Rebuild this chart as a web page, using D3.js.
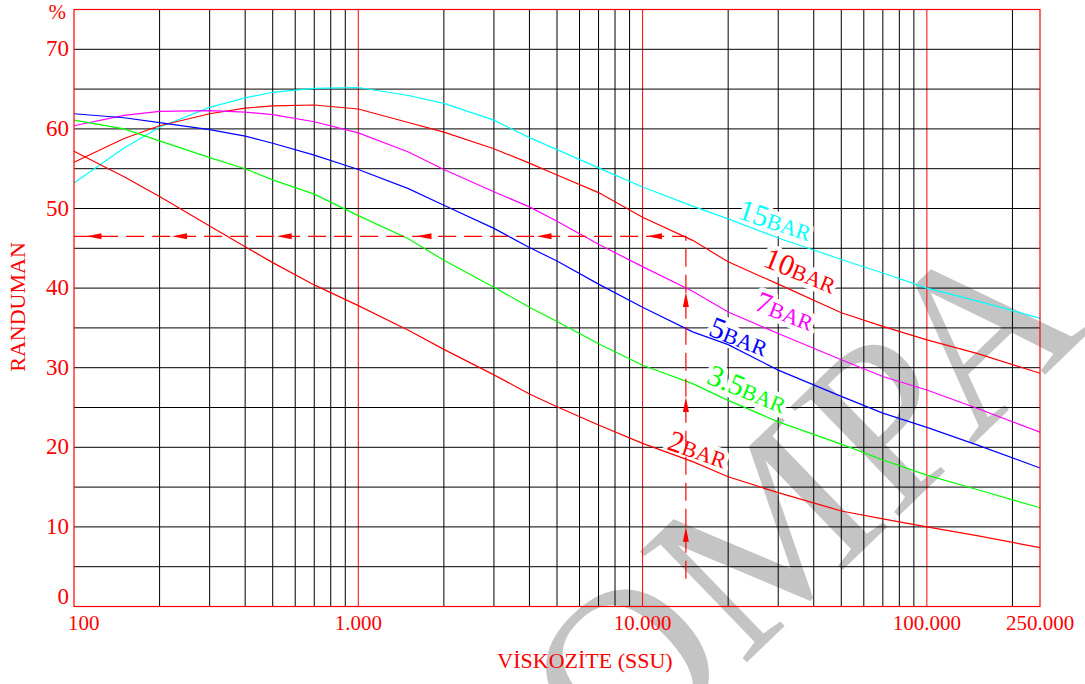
<!DOCTYPE html>
<html>
<head>
<meta charset="utf-8">
<script src="https://cdn.jsdelivr.net/npm/d3@7"></script>
<style>
  body { margin: 0; background: #fff; }
  svg { display: block; }
  text { font-family: "Liberation Serif", "Times New Roman", serif; }
</style>
</head>
<body>
<div id="chart"></div>
<script>
// viscosity (SSU) sample points
var viscosity = [100, 150, 200, 300, 400, 500, 700, 1000, 1500, 2000, 3000, 4000, 5000, 7000,
  10000, 15000, 20000, 30000, 50000, 70000, 100000, 150000, 250000];

// efficiency (%) per pressure
var bar15 = [53.2, 57.6, 60.2, 62.7, 63.9, 64.6, 65.1, 65.2, 64.2, 63.2, 61.1, 58.9, 57.4, 55.1,
  52.7, 50.3, 48.7, 46.3, 43.6, 41.9, 40.0, 38.4, 36.2];
var bar10 = [55.8, 58.8, 60.4, 61.9, 62.6, 62.9, 63.0, 62.5, 60.8, 59.6, 57.5, 55.7, 54.2, 52.0,
  48.9, 46.0, 43.3, 40.5, 36.9, 35.2, 33.5, 31.8, 29.3];
var bar7 = [60.4, 61.7, 62.2, 62.3, 62.1, 61.8, 60.9, 59.5, 57.1, 54.9, 52.1, 50.2, 48.4, 45.5,
  42.7, 39.6, 37.0, 34.3, 31.0, 28.9, 27.2, 24.9, 21.9];
var bar5 = [61.9, 61.4, 60.8, 59.9, 59.1, 58.2, 56.7, 54.9, 52.5, 50.4, 47.5, 45.1, 43.4, 40.5,
  37.6, 34.5, 32.9, 29.7, 26.4, 24.3, 22.5, 20.3, 17.4];
var bar3_5 = [61.1, 60.0, 58.5, 56.4, 55.0, 53.6, 51.8, 49.1, 46.2, 43.5, 40.1, 37.6, 35.8, 33.0,
  30.3, 28.0, 25.9, 23.2, 20.4, 18.4, 16.5, 14.7, 12.4];
var bar2 = [57.2, 54.0, 51.5, 47.8, 45.2, 43.2, 40.4, 37.8, 34.7, 32.3, 29.1, 26.7, 25.1, 22.8,
  20.5, 18.2, 16.3, 14.3, 12.0, 11.0, 10.0, 8.9, 7.4];

var seriesNames = ["15", "10", "7", "5", "3.5", "2"];
var seriesColors = ["#00ffff", "#ff0000", "#ff00ff", "#0000ff", "#00ff00", "#ff0000"];
var seriesValues = [bar15, bar10, bar7, bar5, bar3_5, bar2];

// label anchor (viscosity, %) and rotation for each curve
var labelVisc = [21400, 26300, 24500, 16900, 16600, 12100];
var labelVal = [48.8, 42.8, 37.3, 34.1, 28.1, 19.8];
var labelAngle = [18, 22, 21, 21, 22, 19];

// x tick labels
var xTicks = [100, 1000, 10000, 100000, 250000];
var xTickLabels = ["100", "1.000", "10.000", "100.000", "250.000"];
var yTicks = [0, 10, 20, 30, 40, 50, 60, 70];

// dashed reading guide
var guideVisc = 14200;
var guideVal = 46.5;
var guideBottom = 3.5;
var hArrowVisc = [118, 236, 551, 1710, 4520, 11050];
var vArrowVal = [38.5, 25.3, 9.0];

var width = 1085, height = 684;

var svg = d3.select("#chart").append("svg")
  .attr("width", width)
  .attr("height", height);

var x = d3.scaleLog().domain([100, 250000]).range([74, 1040]);
var y = d3.scaleLinear().domain([0, 75]).range([606.5, 9.5]);

// watermark
svg.append("text")
  .attr("transform", "translate(620,785) rotate(-44)")
  .attr("font-size", 235)
  .attr("fill", "#c4c4c4")
  .text("OMPA");

// grid
var vLines = [];
[100, 1000, 10000, 100000].forEach(function(d) {
  for (var m = 1; m <= 9; m++) {
    var v = d * m;
    if (v > 100 && v < 250000) vLines.push({v: v, major: m === 1});
  }
});

svg.append("g")
  .selectAll("line")
  .data(vLines)
  .enter().append("line")
    .attr("x1", function(d) { return x(d.v); })
    .attr("x2", function(d) { return x(d.v); })
    .attr("y1", y(0))
    .attr("y2", y(75))
    .attr("stroke", function(d) { return d.major ? "#ff0000" : "#000"; })
    .attr("stroke-width", 1);

svg.append("g")
  .selectAll("line")
  .data(d3.range(5, 75, 5))
  .enter().append("line")
    .attr("x1", x(100))
    .attr("x2", x(250000))
    .attr("y1", function(d) { return y(d); })
    .attr("y2", function(d) { return y(d); })
    .attr("stroke", "#000")
    .attr("stroke-width", 1);

// label halos (cut the grid, not the curves)
function labelText(sel) {
  sel.attr("transform", function(d, i) {
      return "translate(" + x(labelVisc[i]) + "," + y(labelVal[i]) + ") rotate(" + labelAngle[i] + ")";
    })
    .attr("fill", function(d, i) { return seriesColors[i]; });
  sel.append("tspan").attr("font-size", 30).text(function(d) { return d; });
  sel.append("tspan").attr("font-size", 22).text("BAR");
}

svg.append("g")
  .selectAll("text")
  .data(seriesNames)
  .enter().append("text")
    .call(labelText)
    .attr("fill", "#fff")
    .attr("stroke", "#fff")
    .attr("stroke-width", 9)
    .attr("stroke-linejoin", "round");

// curves
var line = d3.line()
  .x(function(d, i) { return x(viscosity[i]); })
  .y(function(d) { return y(d); });

svg.append("g")
  .selectAll("path")
  .data(seriesValues)
  .enter().append("path")
    .attr("d", line)
    .attr("fill", "none")
    .attr("stroke", function(d, i) { return seriesColors[i]; })
    .attr("stroke-width", 1.2);

svg.append("g")
  .selectAll("text")
  .data(seriesNames)
  .enter().append("text")
    .call(labelText);

// dashed guide
svg.append("path")
  .attr("d", "M" + x(guideVisc) + "," + y(guideBottom) + "V" + y(guideVal) + "H" + x(100))
  .attr("fill", "none")
  .attr("stroke", "#ff0000")
  .attr("stroke-width", 1.2)
  .attr("stroke-dasharray", "18,8");

svg.append("g")
  .selectAll("path")
  .data(hArrowVisc)
  .enter().append("path")
    .attr("d", function(d) {
      var px = x(d), py = y(guideVal);
      return "M" + (px - 8) + "," + py + "L" + (px + 7) + "," + (py - 3) + "L" + (px + 7) + "," + (py + 3) + "Z";
    })
    .attr("fill", "#ff0000");

svg.append("g")
  .selectAll("path")
  .data(vArrowVal)
  .enter().append("path")
    .attr("d", function(d) {
      var px = x(guideVisc), py = y(d);
      return "M" + px + "," + (py - 8) + "L" + (px - 3) + "," + (py + 7) + "L" + (px + 3) + "," + (py + 7) + "Z";
    })
    .attr("fill", "#ff0000");

// frame
svg.append("rect")
  .attr("x", x(100))
  .attr("y", y(75))
  .attr("width", x(250000) - x(100))
  .attr("height", y(0) - y(75))
  .attr("fill", "none")
  .attr("stroke", "#ff0000")
  .attr("stroke-width", 1.2);

// axis labels
svg.append("g")
  .selectAll("text")
  .data(yTicks)
  .enter().append("text")
    .attr("x", 69)
    .attr("y", function(d) { return d === 0 ? y(d) - 2.5 : y(d) + 7; })
    .attr("text-anchor", "end")
    .attr("font-size", 23)
    .attr("fill", "#ff0000")
    .text(function(d) { return d; });

svg.append("text")
  .attr("x", 66)
  .attr("y", 19)
  .attr("text-anchor", "end")
  .attr("font-size", 21)
  .attr("fill", "#ff0000")
  .text("%");

svg.append("g")
  .selectAll("text")
  .data(xTicks)
  .enter().append("text")
    .attr("x", function(d, i) { return i === 0 ? x(d) - 6 : x(d); })
    .attr("y", 630)
    .attr("text-anchor", function(d, i) { return i === 0 ? "start" : "middle"; })
    .attr("font-size", 21)
    .attr("fill", "#ff0000")
    .text(function(d, i) { return xTickLabels[i]; });

svg.append("text")
  .attr("x", 585)
  .attr("y", 668)
  .attr("text-anchor", "middle")
  .attr("font-size", 22)
  .attr("fill", "#ff0000")
  .text("VİSKOZİTE (SSU)");

svg.append("text")
  .attr("transform", "translate(25,307) rotate(-90)")
  .attr("text-anchor", "middle")
  .attr("font-size", 22)
  .attr("fill", "#ff0000")
  .text("RANDUMAN");
</script>
</body>
</html>
